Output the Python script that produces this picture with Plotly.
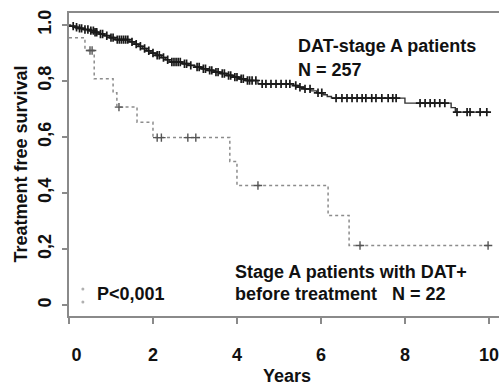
import plotly.graph_objects as go

# Kaplan-Meier step functions: time (years) at which each step occurs, survival after the step
dat_neg_times = [0, 0.04, 0.12, 0.22, 0.35, 0.48, 0.60, 0.72, 0.85, 0.97, 1.10, 1.45, 1.55,
                 1.65, 1.75, 1.85, 1.95, 2.05, 2.20, 2.30, 2.40, 2.70, 2.85, 3.00, 3.15,
                 3.30, 3.45, 3.60, 3.75, 3.90, 4.05, 4.20, 4.50, 5.35, 5.45, 5.60, 5.75,
                 5.90, 6.05, 6.15, 6.25, 8.00, 9.10, 9.20]
dat_neg_surv = [1.0, 0.996, 0.992, 0.988, 0.984, 0.980, 0.974, 0.968, 0.962, 0.955, 0.948,
                0.940, 0.932, 0.924, 0.916, 0.908, 0.900, 0.892, 0.884, 0.876, 0.868, 0.862,
                0.856, 0.850, 0.844, 0.838, 0.832, 0.827, 0.820, 0.814, 0.808, 0.802, 0.790,
                0.784, 0.778, 0.772, 0.765, 0.758, 0.751, 0.745, 0.739, 0.721, 0.705, 0.689]
dat_neg_censor = [0.10, 0.18, 0.25, 0.30, 0.38, 0.45, 0.52, 0.58, 0.62, 0.66, 0.75, 0.80,
                  0.90, 1.00, 1.05, 1.15, 1.20, 1.25, 1.30, 1.35, 1.40, 1.50, 1.60, 1.70,
                  1.80, 1.90, 2.00, 2.10, 2.15, 2.25, 2.35, 2.45, 2.50, 2.55, 2.60, 2.65,
                  2.75, 2.80, 2.90, 3.05, 3.10, 3.20, 3.25, 3.35, 3.40, 3.50, 3.55, 3.65,
                  3.70, 3.80, 3.85, 3.95, 4.00, 4.10, 4.15, 4.25, 4.30, 4.36, 4.45, 4.60,
                  4.69, 4.81, 4.93, 5.05, 5.17, 5.26, 5.40, 5.50, 5.62, 5.74, 5.93, 6.02,
                  6.36, 6.50, 6.62, 6.74, 6.86, 6.98, 7.07, 7.21, 7.31, 7.45, 7.60, 7.71,
                  7.79, 8.36, 8.48, 8.60, 8.71, 8.83, 8.95, 9.24, 9.48, 9.55, 9.79, 9.95]
dat_neg_end = 10.0

dat_pos_times = [0, 0.38, 0.60, 1.05, 1.14, 1.62, 2.00, 3.83, 4.00, 6.17, 6.67]
dat_pos_surv = [0.955, 0.909, 0.808, 0.758, 0.707, 0.653, 0.598, 0.513, 0.427, 0.320, 0.213]
dat_pos_censor = [0.50, 0.55, 1.19, 2.10, 2.20, 2.83, 3.02, 4.50, 6.93, 9.98]
dat_pos_end = 10.0

x_ticks = [0, 2, 4, 6, 8, 10]
x_tick_text = ["\u00a0\u00a0\u00a00", "2", "4", "6", "8", "10"]
y_ticks = [0, 0.2, 0.4, 0.6, 0.8, 1.0]
y_tick_text = ["0", "0,2", "0,4", "0,6", "0,8", "1.0"]

FONT = "Liberation Sans, Arial, Helvetica, sans-serif"


def step_value(times, surv, t):
    """Survival of a right-continuous step function at time t."""
    val = surv[0]
    for ti, si in zip(times, surv):
        if ti <= t:
            val = si
    return val


def step_xy(times, surv, end):
    return list(times) + [end], list(surv) + [surv[-1]]


fig = go.Figure()

# DAT-negative stage A patients
sx, sy = step_xy(dat_neg_times, dat_neg_surv, dat_neg_end)
fig.add_trace(go.Scatter(x=sx, y=sy, mode="lines", line=dict(color="#333333", width=1.4, shape="hv"),
                         hoverinfo="skip"))
fig.add_trace(go.Scatter(x=dat_neg_censor,
                         y=[step_value(dat_neg_times, dat_neg_surv, t) for t in dat_neg_censor],
                         mode="markers",
                         marker=dict(symbol="cross-thin", size=6, line=dict(color="#1a1a1a", width=1.7)),
                         hoverinfo="skip"))

# DAT-positive stage A patients
px, py = step_xy(dat_pos_times, dat_pos_surv, dat_pos_end)
fig.add_trace(go.Scatter(x=px, y=py, mode="lines",
                         line=dict(color="#8c8c8c", width=1.5, shape="hv", dash="dot"),
                         hoverinfo="skip"))
fig.add_trace(go.Scatter(x=dat_pos_censor,
                         y=[step_value(dat_pos_times, dat_pos_surv, t) for t in dat_pos_censor],
                         mode="markers",
                         marker=dict(symbol="cross-thin", size=6, line=dict(color="#555555", width=1.4)),
                         hoverinfo="skip"))

axis_col = "#8a8a8a"
tick_font = dict(family=FONT, size=18, color="#111111", weight="bold")
fig.update_xaxes(range=[0, 10.24], tickvals=x_ticks, ticktext=x_tick_text,
                 showline=True, linecolor=axis_col, linewidth=2, mirror=True,
                 ticks="outside", ticklen=6, tickwidth=1.5, tickcolor=axis_col,
                 ticklabelstandoff=15, ticklabeloverflow="allow",
                 showgrid=False, zeroline=False, tickfont=tick_font)
fig.update_yaxes(range=[-0.039, 1.043], tickvals=y_ticks, ticktext=y_tick_text,
                 showline=True, linecolor=axis_col, linewidth=2,
                 ticks="outside", ticklen=5, tickwidth=1.5, tickcolor=axis_col,
                 tickangle=-90, ticklabelstandoff=4,
                 showgrid=False, zeroline=False, tickfont=tick_font)

text_font = dict(family=FONT, size=18, color="#111111")
annotations = [
    dict(text="<b>DAT-stage A patients</b>", x=5.4, y=0.925, xanchor="left", yanchor="middle"),
    dict(text="<b>N = 257</b>", x=5.4, y=0.84, xanchor="left", yanchor="middle"),
    dict(text="<b>Stage A patients with DAT+</b>", x=3.9, y=0.118, xanchor="left", yanchor="middle"),
    dict(text="<b>before treatment   N = 22</b>", x=3.9, y=0.04, xanchor="left", yanchor="middle"),
    dict(text="<b>P<0,001</b>", x=0.62, y=0.04, xanchor="left", yanchor="middle"),
]
for a in annotations:
    fig.add_annotation(xref="x", yref="y", showarrow=False, font=text_font, **a)

# axis titles
fig.add_annotation(text="<b>Years</b>", xref="paper", yref="paper", x=0.507, y=0,
                   yanchor="middle", yshift=-60, showarrow=False, font=text_font)
fig.add_annotation(text="<b>Treatment free survival</b>", xref="paper", yref="paper", x=0, y=0.5,
                   xanchor="center", yanchor="middle", xshift=-49, textangle=-90,
                   showarrow=False, font=text_font)

# faint legend dots beside the p-value
fig.add_trace(go.Scatter(x=[0.33, 0.33], y=[0.057, 0.011], mode="markers",
                         marker=dict(size=3, color="#b0b0b0"), hoverinfo="skip"))

fig.update_layout(width=499, height=387, margin=dict(l=69, r=0, t=13, b=71),
                  paper_bgcolor="white", plot_bgcolor="white", showlegend=False)

fig.write_html("out.html")
